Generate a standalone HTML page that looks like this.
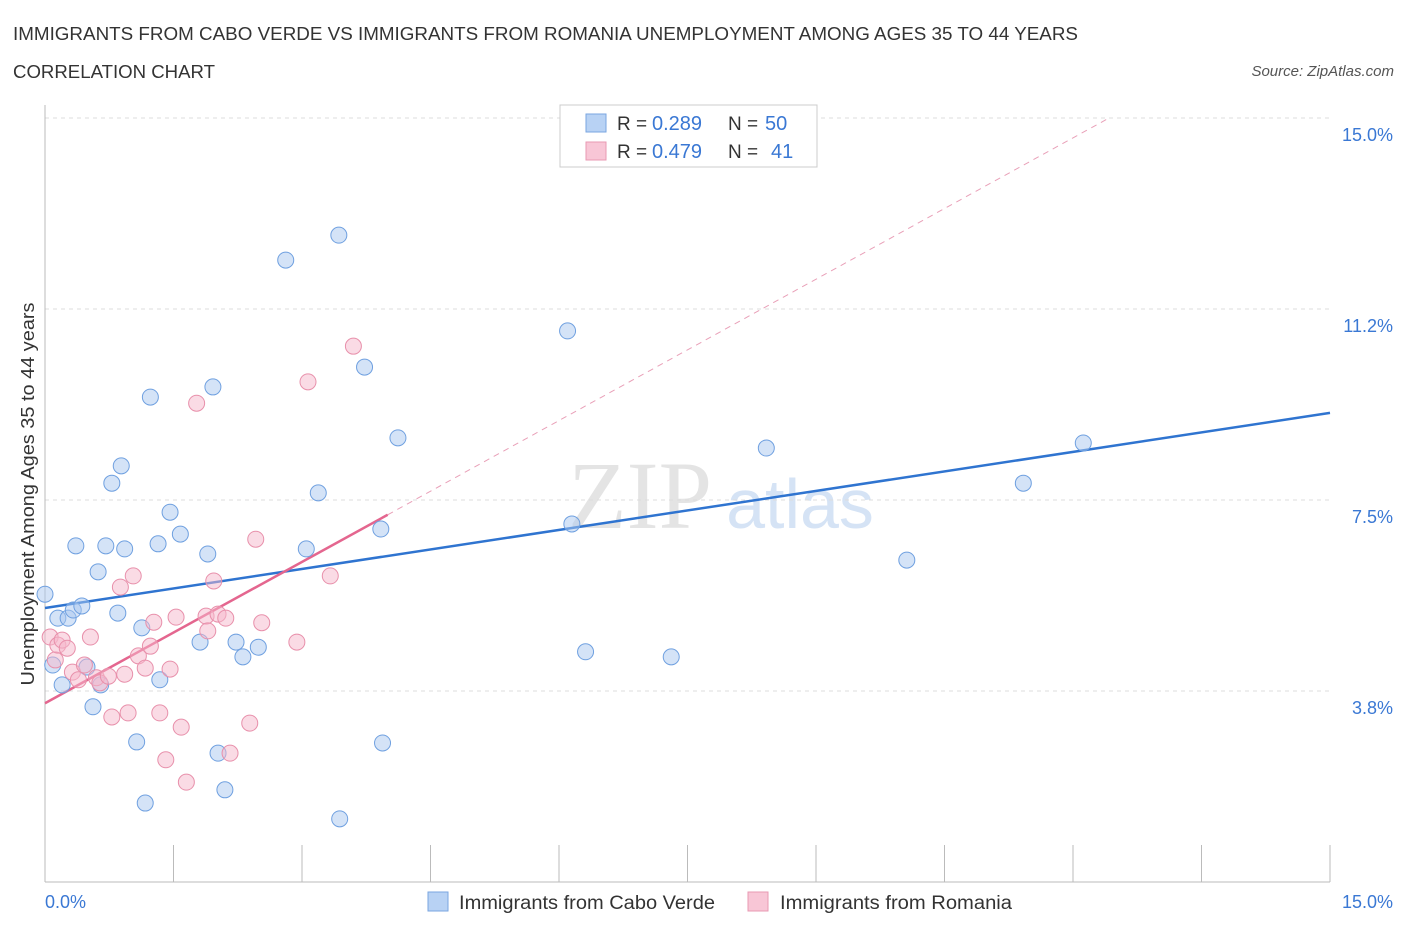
<!DOCTYPE html>
<html><head><meta charset="utf-8">
<style>
body{margin:0;background:#fff;font-family:"Liberation Sans",sans-serif;}
svg{display:block}
</style></head>
<body>
<svg id="chart" width="1406" height="930">
<text x="13" y="40" font-size="18" fill="#333" textLength="1065" lengthAdjust="spacingAndGlyphs">IMMIGRANTS FROM CABO VERDE VS IMMIGRANTS FROM ROMANIA UNEMPLOYMENT AMONG AGES 35 TO 44 YEARS</text>
<text x="13" y="78" font-size="18" fill="#333" textLength="202" lengthAdjust="spacingAndGlyphs">CORRELATION CHART</text>
<text x="1394" y="76" font-size="15" fill="#555" font-style="italic" text-anchor="end">Source: ZipAtlas.com</text>
<text x="640" y="528" font-size="96" fill="#e4e4e4" font-family="Liberation Serif" text-anchor="middle">ZIP</text>
<text x="800" y="528" font-size="70" fill="#d5e3f5" text-anchor="middle">atlas</text>
<g id="grid"></g>
<g id="axes"></g>
<g id="lines"></g>
<g id="points"></g>
<text x="34" y="494" font-size="18" fill="#333" text-anchor="middle" textLength="383" lengthAdjust="spacingAndGlyphs" transform="rotate(-90 34 494)">Unemployment Among Ages 35 to 44 years</text>
<g>
<rect x="560" y="105" width="257" height="62" fill="#fff" stroke="#ccc"/>
<rect x="586" y="114" width="20" height="18" fill="#b8d2f4" stroke="#7aa6e0"/>
<rect x="586" y="142" width="20" height="18" fill="#f8c6d6" stroke="#e899b3"/>
<text x="617" y="130" font-size="19" fill="#333">R =</text>
<text x="652" y="130" font-size="20" fill="#3a78d4">0.289</text>
<text x="728" y="130" font-size="19" fill="#333">N =</text>
<text x="765" y="130" font-size="20" fill="#3a78d4">50</text>
<text x="617" y="158" font-size="19" fill="#333">R =</text>
<text x="652" y="158" font-size="20" fill="#3a78d4">0.479</text>
<text x="728" y="158" font-size="19" fill="#333">N =</text>
<text x="771" y="158" font-size="20" fill="#3a78d4">41</text>
</g>
<g>
<rect x="428" y="892" width="20" height="19" fill="#b8d2f4" stroke="#7aa6e0"/>
<text x="459" y="909" font-size="19" fill="#333" textLength="256" lengthAdjust="spacingAndGlyphs">Immigrants from Cabo Verde</text>
<rect x="748" y="892" width="20" height="19" fill="#f8c6d6" stroke="#e899b3"/>
<text x="780" y="909" font-size="19" fill="#333" textLength="232" lengthAdjust="spacingAndGlyphs">Immigrants from Romania</text>
</g>
</svg>
<script>
const blueX=[0,0.09,0.15,0.2,0.27,0.33,0.36,0.43,0.49,0.56,0.62,0.65,0.71,0.78,0.85,0.89,0.93,1.07,1.13,1.17,1.23,1.32,1.34,1.46,1.58,1.81,1.90,1.96,2.02,2.10,2.23,2.31,2.49,2.81,3.05,3.19,3.43,3.44,3.73,3.92,3.94,4.12,6.10,6.15,6.31,7.31,8.42,10.06,11.42,12.12];
const blueY=[5.65,4.26,5.18,3.87,5.18,5.34,6.60,5.42,4.22,3.44,6.09,3.87,6.60,7.83,5.28,8.17,6.54,2.75,4.99,1.55,9.52,6.64,3.97,7.26,6.83,4.71,6.44,9.72,2.53,1.81,4.71,4.42,4.61,12.21,6.54,7.64,12.70,1.24,10.11,6.93,2.73,8.72,10.82,7.03,4.52,4.42,8.52,6.32,7.83,8.62];
const pinkX=[0.06,0.12,0.15,0.2,0.26,0.32,0.39,0.46,0.53,0.6,0.64,0.74,0.78,0.88,0.93,0.97,1.03,1.09,1.17,1.23,1.27,1.34,1.41,1.46,1.53,1.59,1.65,1.77,1.88,1.90,1.97,2.02,2.11,2.16,2.39,2.46,2.53,2.94,3.07,3.33,3.60];
const pinkY=[4.81,4.36,4.65,4.75,4.59,4.12,3.97,4.26,4.81,4.01,3.91,4.04,3.24,5.79,4.08,3.32,6.01,4.44,4.20,4.63,5.10,3.32,2.40,4.18,5.20,3.04,1.96,9.40,5.22,4.93,5.91,5.26,5.18,2.53,3.12,6.73,5.09,4.71,9.82,6.01,10.52];
const yTickVals=[3.75,7.5,11.25,15];
const yTickLabels=["3.8%","7.5%","11.2%","15.0%"];
const xTickVals=[0,1.5,3,4.5,6,7.5,9,10.5,12,13.5,15];
const blueLine=[5.38,9.21];
const pinkLine=[3.51,0.925];
const NS="http://www.w3.org/2000/svg";
const sx=v=>45+v/15*1285, sy=v=>882-v/15*764;
function mk(parent,tag,attrs){const e=document.createElementNS(NS,tag);for(const k in attrs)e.setAttribute(k,attrs[k]);document.getElementById(parent).appendChild(e);return e;}
yTickVals.forEach((v,i)=>{
 const l=mk('grid','line',{x1:45,x2:1330,y1:sy(v),y2:sy(v),stroke:'#ddd','stroke-dasharray':'4,4'});
 
 
 const t=mk('grid','text',{x:1393,y:sy(v)+23,'font-size':18,fill:'#3a78d4','text-anchor':'end'});
 t.textContent=yTickLabels[i];
 
 
});
const ax=mk('axes','line',{x1:45,x2:1330,y1:882,y2:882,stroke:'#bbb'});


const ay=mk('axes','line',{x1:45,x2:45,y1:105,y2:882,stroke:'#bbb'});


xTickVals.forEach(v=>{
 const t=mk('axes','line',{x1:sx(v),x2:sx(v),y1:845,y2:882,stroke:'#bbb'});
 
 
});
const xl0=mk('axes','text',{x:45,y:908,'font-size':18,fill:'#3a78d4'});xl0.textContent='0.0%';


const xl1=mk('axes','text',{x:1393,y:908,'font-size':18,fill:'#3a78d4','text-anchor':'end'});xl1.textContent='15.0%';


const pEnd=(15-pinkLine[0])/pinkLine[1];
const pd=mk('lines','line',{x1:sx(4),y1:sy(pinkLine[0]+pinkLine[1]*4),x2:sx(pEnd),y2:sy(15),stroke:'#e9a0b8','stroke-dasharray':'6,5','stroke-width':1});


const bl=mk('lines','line',{x1:sx(0),y1:sy(blueLine[0]),x2:sx(15),y2:sy(blueLine[1]),stroke:'#2f74d0','stroke-width':2.5});


blueX.forEach((x,i)=>{
 const c=mk('points','circle',{cx:sx(x),cy:sy(blueY[i]),r:8,fill:'rgba(170,200,240,0.5)',stroke:'#6fa0e0','stroke-width':1});
 
 
});
pinkX.forEach((x,i)=>{
 const c=mk('points','circle',{cx:sx(x),cy:sy(pinkY[i]),r:8,fill:'rgba(245,184,204,0.5)',stroke:'#e890ab','stroke-width':1});
 
 
});
const pl=mk('lines','line',{x1:sx(0),y1:sy(pinkLine[0]),x2:sx(4),y2:sy(pinkLine[0]+pinkLine[1]*4),stroke:'#e4668f','stroke-width':2.5});


</script>
</body></html>
